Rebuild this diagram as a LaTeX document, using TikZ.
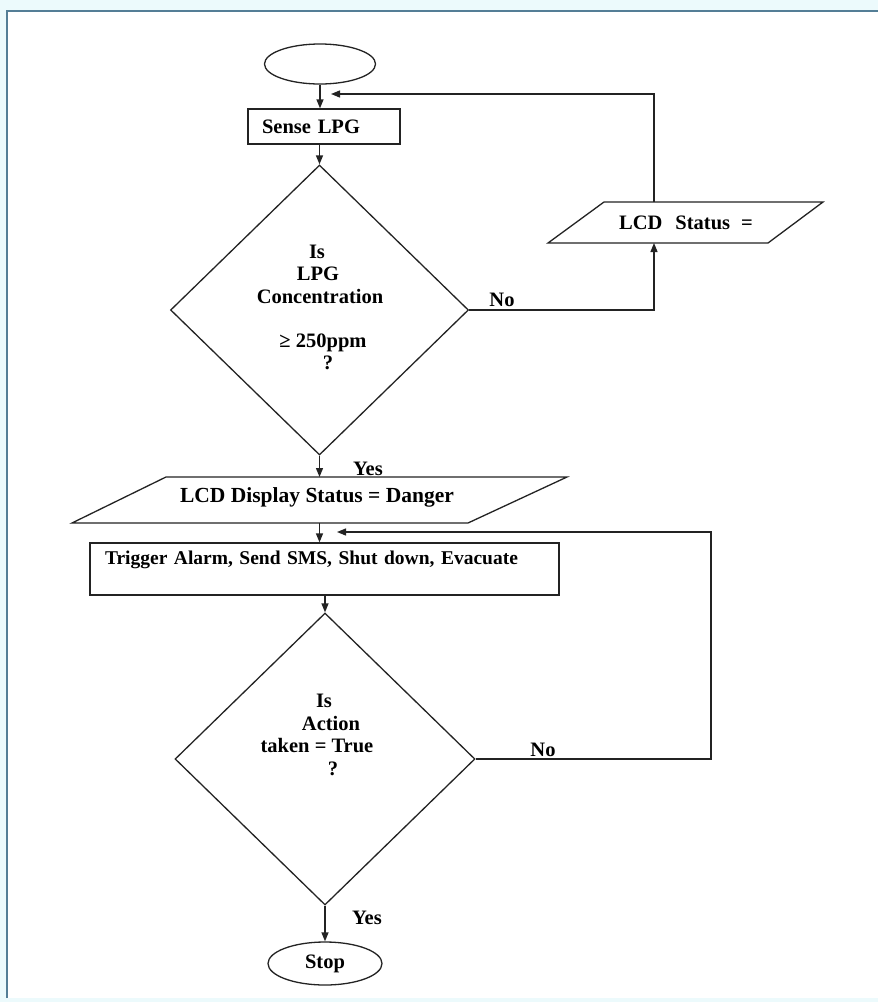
\documentclass[tikz,border=0pt]{standalone}
\usepackage{fontspec}
\setmainfont{Liberation Serif}
\usetikzlibrary{shapes.geometric,arrows.meta}
\definecolor{framecol}{RGB}{84,126,150}
\definecolor{outbg}{RGB}{236,250,252}
\definecolor{ink}{RGB}{35,35,35}
\begin{document}
\begin{tikzpicture}[x=1pt,y=-1pt,
  shp/.style={draw=ink, line width=1.3pt, inner sep=0pt},
  txt/.style={font=\bfseries\fontsize{20.5pt}{22.5pt}\selectfont, text=black, inner sep=0pt},
  bigtxt/.style={font=\bfseries\fontsize{21.5pt}{23pt}\selectfont, text=black, inner sep=0pt},
  acttxt/.style={font=\bfseries\fontsize{19.5pt}{22pt}\selectfont, text=black},
  arr/.style={draw=ink, line width=1.3pt, -{Triangle[length=9pt,width=7pt]}}
]
\useasboundingbox (0,0) rectangle (878,1002);
\fill[outbg] (0,0) rectangle (878,1002);
\fill[white] (7,11) rectangle (878,998);
\draw[framecol, line width=2pt] (7,998) -- (7,11) -- (878,11);

% start
\node[shp, ellipse, minimum width=111pt, minimum height=40pt] (start) at (320,64) {};
% sense box
\node[shp, rectangle, minimum width=152pt, minimum height=35pt, text width=124pt,
      inner xsep=14pt, align=left, txt] (sense) at (324,126.5) {Sense LPG};
% decision 1
\node[shp, diamond, minimum width=298pt, minimum height=290pt] (d1) at (319.5,310) {};
\node[txt, align=center] (d1t) at (320,307.5)
  {\hspace*{-6pt}Is\\\hspace*{-4pt}LPG\\Concentration\\[21.5pt]\hspace*{6pt}≥ 250ppm\\\hspace*{16pt}?};
\node[txt] (no1) at (502,300) {No};
% LCD status parallelogram
\draw[shp] (548,243) -- (604,202) -- (823,202) -- (768,243) -- cycle;
\node[txt] (p1) at (686,222.5) {LCD\hspace{13pt}Status\hspace{11pt}=};
\coordinate (p1b) at (654,243);
\coordinate (p1t) at (654,202);
\coordinate (loop1c) at (654,94);
\coordinate (loop1) at (331,94);
% yes 1
\node[txt] (yes1) at (368,469) {Yes};
% LCD danger parallelogram
\draw[shp] (72,523) -- (166,477) -- (567,477) -- (468,523) -- cycle;
\node[bigtxt] (p2) at (317,497) {LCD Display Status = Danger};
\coordinate (p2t) at (319.5,477);
\coordinate (p2b) at (319.5,523);
% action box
\node[shp, rectangle, minimum width=469pt, minimum height=52pt, text width=439pt,
      inner xsep=15pt, align=left, acttxt] (act) at (324.5,569)
  {Trigger Alarm, Send SMS, Shut down, Evacuate\\\mbox{}};
\coordinate (loop2) at (337,532);
\coordinate (loop2a) at (711,759);
\coordinate (loop2b) at (711,532);
% decision 2
\node[shp, diamond, minimum width=300pt, minimum height=292pt] (d2) at (325,759) {};
\node[txt, align=center] (d2t) at (317,735)
  {\hspace*{14pt}Is\\\hspace*{28pt}Action\\taken = True\\\hspace*{32pt}?};
\node[txt] (no2) at (543,750) {No};
\node[txt] (yes2) at (367,918) {Yes};
% stop
\node[shp, ellipse, minimum width=114pt, minimum height=43pt, txt] (stop) at (325,963.5) {Stop};

% connectors
\draw[arr] (start.south) -- (start.south |- sense.north);
\draw[arr] (d1.north |- sense.south) -- (d1.north);
\draw[arr] (d1.east) -| (p1b);
\draw[arr] (p1t) -- (loop1c) -- (loop1);
\draw[arr] (d1.south) -- (p2t);
\draw[arr] (p2b) -- (p2b |- act.north);
\draw[arr] (d2.north |- act.south) -- (d2.north);
\draw[arr] (d2.east) -- (loop2a) -- (loop2b) -- (loop2);
\draw[arr] (d2.south) -- (stop.north);
\end{tikzpicture}
\end{document}
